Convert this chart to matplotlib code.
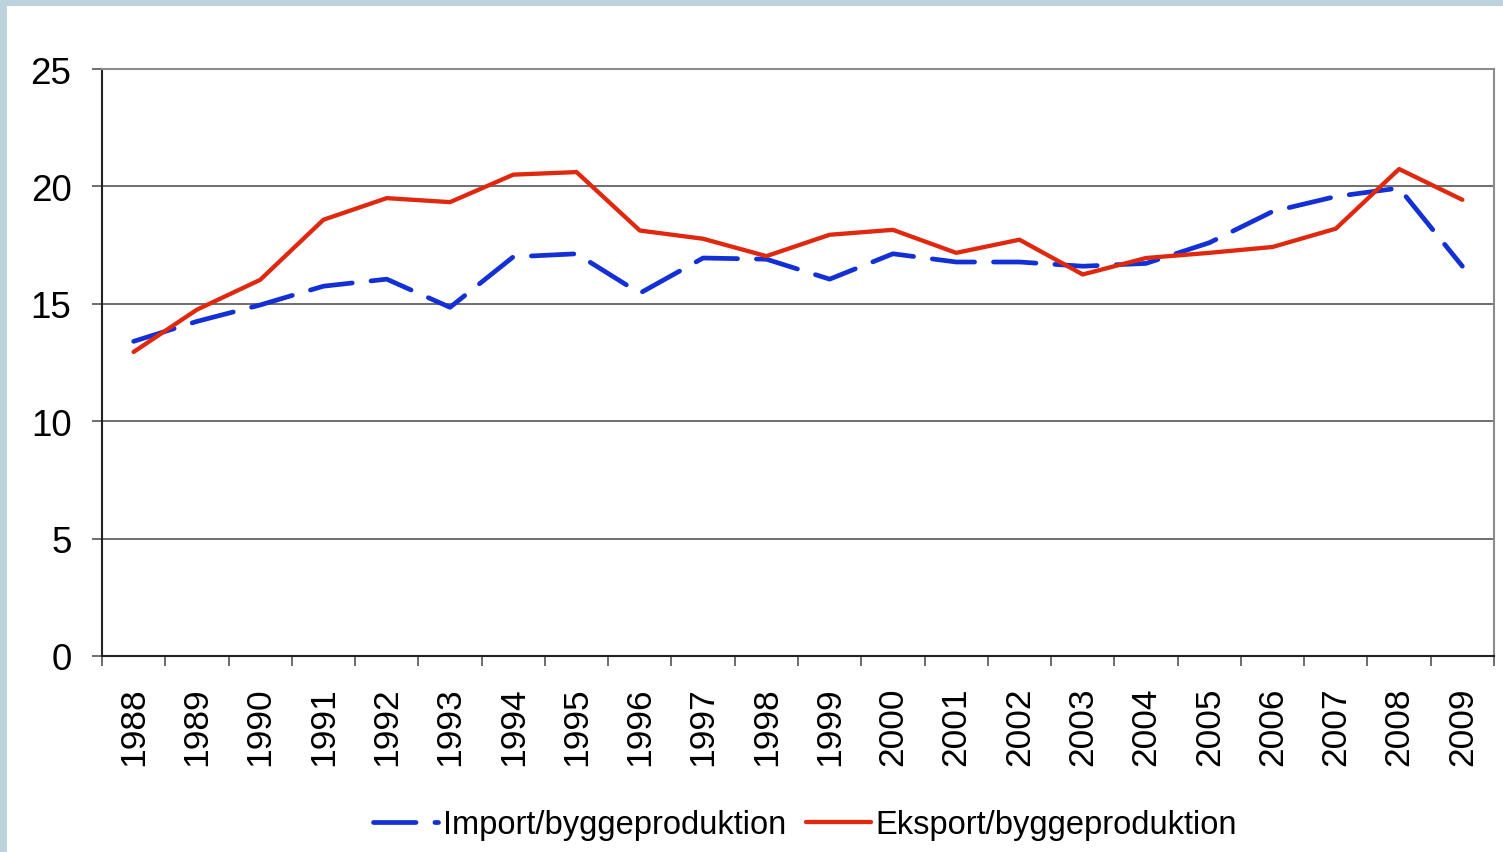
import matplotlib
matplotlib.use("Agg")
import matplotlib.pyplot as plt
from matplotlib.patches import Rectangle
from matplotlib.ticker import FixedLocator, MultipleLocator

years = [str(y) for y in range(1988, 2010)]
import_vals = [13.4, 14.25, 14.95, 15.75, 16.05, 14.85, 17.0, 17.13, 15.45, 16.95,
               16.9, 16.05, 17.13, 16.78, 16.78, 16.6, 16.72, 17.6, 18.93, 19.57,
               19.93, 16.6]
export_vals = [12.95, 14.75, 16.02, 18.58, 19.5, 19.33, 20.5, 20.61, 18.12, 17.77,
               17.03, 17.94, 18.15, 17.17, 17.73, 16.25, 16.95, 17.17, 17.42, 18.2,
               20.74, 19.43]
import_label = "Import/byggeproduktion"
export_label = "Eksport/byggeproduktion"

plt.rcParams['font.family'] = ['Liberation Sans', 'DejaVu Sans']

fig = plt.figure(figsize=(15.03, 8.53), dpi=100)
fig.patch.set_facecolor('white')
border = '#BCD3DE'
fig.add_artist(Rectangle((0, 0), 7 / 1503, 1, transform=fig.transFigure,
                         facecolor=border, edgecolor='none', zorder=0))
fig.add_artist(Rectangle((0, 1 - 7 / 853), 1, 7 / 853, transform=fig.transFigure,
                         facecolor=border, edgecolor='none', zorder=0))

ax = fig.add_axes([102 / 1503, 1 - 657 / 853, (1494 - 102) / 1503, (657 - 70) / 853])
x = list(range(len(years)))

ax.plot(x, import_vals, color='#1230D6', lw=3.4, linestyle=(0, (9, 4)),
        dash_capstyle='round', solid_capstyle='round', label=import_label, zorder=3)
ax.plot(x, export_vals, color='#E0280F', lw=3.1, solid_capstyle='round',
        solid_joinstyle='round', label=export_label, zorder=4)

ax.set_xlim(-0.5, len(years) - 0.5)
ax.set_ylim(0, 25)
ax.yaxis.set_major_locator(MultipleLocator(5))
ax.grid(axis='y', color='#6f6f6f', lw=1.4, zorder=1)

# category boundaries as ticks, labels at centers
ax.xaxis.set_major_locator(FixedLocator([i - 0.5 for i in range(len(years) + 1)]))
ax.set_xticklabels([])
ax.xaxis.set_minor_locator(FixedLocator(x))
ax.set_xticks(x, labels=years, minor=True, rotation=90)
ax.tick_params(axis='x', which='major', length=7, width=1.2, color='#555555', direction='out')
ax.tick_params(axis='x', which='minor', length=0, pad=22, labelsize=25.5)
ax.tick_params(axis='y', length=7, width=1.2, color='#555555', pad=15, labelsize=26.5)

for s in ['left', 'bottom']:
    ax.spines[s].set_color('#222222')
    ax.spines[s].set_linewidth(1.5)
for s in ['top', 'right']:
    ax.spines[s].set_color('#8c8c8c')
    ax.spines[s].set_linewidth(1.5)

leg = fig.legend(loc='center', bbox_to_anchor=(805 / 1503, 1 - 826 / 853), ncol=2,
                 frameon=False, fontsize=23.5, handlelength=2.0, handletextpad=0.15,
                 columnspacing=0.6)

fig.savefig('out.png', dpi=100, facecolor='white')
